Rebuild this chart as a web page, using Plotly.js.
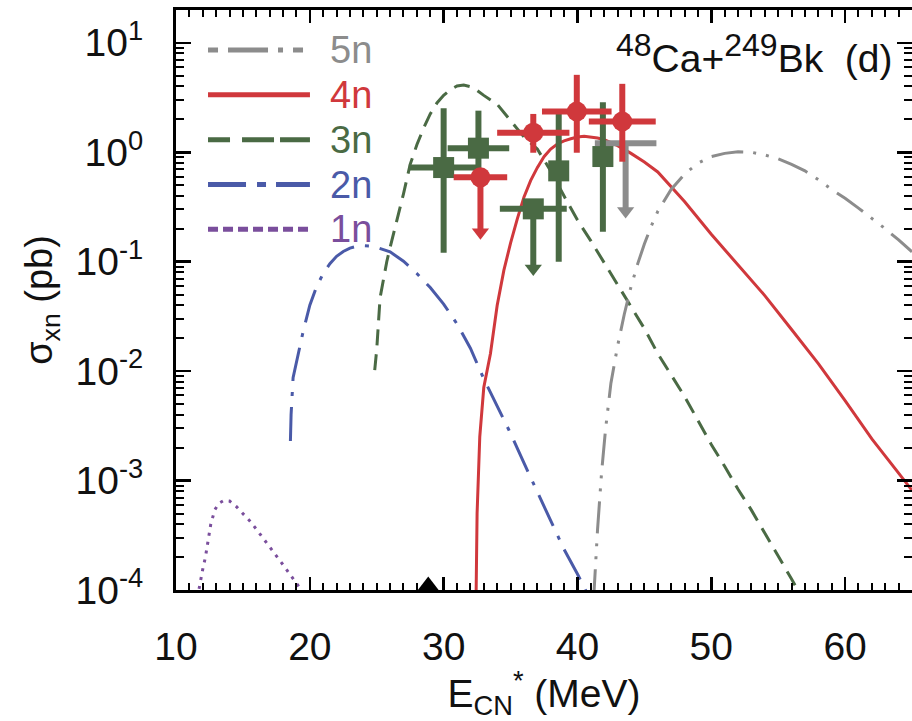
<!DOCTYPE html>
<html>
<head>
<meta charset="utf-8">
<script src="https://cdn.plot.ly/plotly-3.0.1.min.js"></script>
<style>
  html, body { margin: 0; padding: 0; background: #fff; }
  #chart { width: 912px; height: 721px; }
</style>
</head>
<body>
<div id="chart"></div>
<script>
// Calculated evaporation-residue cross sections, 48Ca + 249Bk
// Excitation energy E*_CN in MeV, cross section in pb

const e1n = [11.6, 11.8, 12.0, 12.2, 12.4, 12.6, 12.9, 13.2, 13.6, 14.0, 14.5, 15.0, 15.5, 16.0, 16.5, 17.0, 17.5, 18.0, 18.5, 19.0, 19.5, 20.0];
const s1n = [8.5e-5, 1.2e-4, 1.55e-4, 2.0e-4, 2.8e-4, 4.0e-4, 5.4e-4, 6.2e-4, 6.6e-4, 6.5e-4, 5.8e-4, 5.0e-4, 4.3e-4, 3.6e-4, 3.0e-4, 2.45e-4, 2.05e-4, 1.7e-4, 1.4e-4, 1.15e-4, 9.5e-5, 7.8e-5];

const e2n = [18.55, 18.6, 18.75, 19.0, 19.5, 20.0, 20.5, 21.0, 21.5, 22.0, 22.5, 23.0, 23.5, 24.0, 24.5, 25.0, 26.0, 27.0, 28.0, 29.0, 30.0, 31.0, 32.0, 33.0, 34.0, 35.0, 36.0, 37.0, 38.0, 39.0, 40.0, 41.0];
const s2n = [2.3e-3, 4.0e-3, 8.7e-3, 1.2e-2, 2.3e-2, 4.0e-2, 5.9e-2, 7.8e-2, 9.6e-2, 0.112, 0.124, 0.133, 0.138, 0.140, 0.139, 0.135, 0.123, 0.101, 0.078, 0.058, 0.041, 0.027, 0.0162, 8.5e-3, 4.8e-3, 2.7e-3, 1.45e-3, 7.8e-4, 4.3e-4, 2.35e-4, 1.4e-4, 8.0e-5];

const e3n = [24.85, 25.0, 25.25, 25.5, 25.75, 26.0, 26.5, 27.0, 27.5, 28.0, 28.5, 29.0, 29.5, 30.0, 30.5, 31.0, 31.5, 32.0, 32.5, 33.0, 34.0, 35.0, 36.0, 37.0, 38.0, 39.0, 40.0, 41.0, 42.0, 43.0, 44.0, 45.0, 46.0, 47.0, 48.0, 49.0, 50.0, 51.0, 52.0, 53.0, 54.0, 55.0, 56.0, 57.0];
const s3n = [0.0102, 0.0158, 0.0468, 0.0708, 0.100, 0.135, 0.234, 0.417, 0.776, 1.17, 1.66, 2.24, 2.82, 3.31, 3.72, 4.03, 4.12, 3.98, 3.67, 3.31, 2.75, 1.95, 1.38, 1.07, 0.676, 0.398, 0.240, 0.155, 0.0977, 0.0617, 0.0398, 0.0245, 0.0145, 9.12e-3, 5.89e-3, 3.55e-3, 2.14e-3, 1.35e-3, 8.32e-4, 5.37e-4, 3.31e-4, 2.09e-4, 1.26e-4, 7.6e-5];

const e4n = [32.4, 32.5, 32.7, 33.0, 33.5, 34.0, 34.5, 35.0, 35.5, 36.0, 36.5, 37.0, 37.5, 38.0, 38.5, 39.0, 39.5, 40.0, 40.5, 41.0, 41.5, 42.0, 43.0, 44.0, 45.0, 46.0, 47.0, 48.0, 50.0, 52.0, 54.0, 56.0, 58.0, 60.0, 62.0, 64.0, 65.0];
const s4n = [5.0e-5, 5.0e-4, 2.51e-3, 7.08e-3, 0.0145, 0.0398, 0.0832, 0.148, 0.245, 0.389, 0.550, 0.724, 0.912, 1.07, 1.19, 1.27, 1.33, 1.38, 1.40, 1.38, 1.35, 1.30, 1.15, 0.977, 0.813, 0.661, 0.490, 0.355, 0.178, 0.0933, 0.0490, 0.0240, 0.0117, 5.37e-3, 2.40e-3, 1.17e-3, 8.13e-4];

const e5n = [41.2, 41.5, 41.8, 42.1, 42.5, 43.0, 43.5, 44.0, 44.5, 45.0, 45.5, 46.0, 47.0, 48.0, 49.0, 50.0, 51.0, 52.0, 53.0, 54.0, 55.0, 56.0, 57.0, 58.0, 59.0, 60.0, 61.0, 62.0, 63.0, 64.0, 65.0];
const s5n = [7.9e-5, 3.55e-4, 1.17e-3, 2.95e-3, 7.76e-3, 0.0170, 0.0331, 0.0589, 0.0955, 0.145, 0.209, 0.288, 0.457, 0.631, 0.794, 0.912, 0.977, 1.01, 1.00, 0.944, 0.871, 0.776, 0.676, 0.562, 0.457, 0.380, 0.309, 0.251, 0.200, 0.158, 0.123];

// Measured points: centre, half-width in energy, upper and lower bar ends
// (for upper limits the lower end is where the arrow stops)
const exp3nE = [30.0, 32.6, 36.7, 38.6, 41.9];
const exp3nS = [0.725, 1.09, 0.304, 0.676, 0.914];
const exp3nDE = [2.6, 2.3, 2.5, 0, 0];
const exp3nHi = [2.53, 2.40, 0.304, 2.36, 2.87];
const exp3nLo = [0.121, 0.5, 0.0865, 0.10, 0.188];
const exp3nLimit = [false, false, true, false, false];

const exp4nE = [32.75, 36.7, 39.95, 43.35];
const exp4nS = [0.59, 1.51, 2.36, 1.91];
const exp4nDE = [2.0, 2.7, 2.6, 2.5];
const exp4nHi = [0.59, 2.24, 5.1, 4.22];
const exp4nLo = [0.186, 0.99, 0.99, 0.82];
const exp4nLimit = [true, false, false, false];

const exp5nE = [43.6];
const exp5nS = [1.21];
const exp5nDE = [2.3];
const exp5nHi = [1.21];
const exp5nLo = [0.291];
const exp5nLimit = [true];

// Bass barrier marker on the energy axis
const barrierE = [28.85];
const barrierS = [1.1e-4];

// legend entries, top to bottom
const legendLabels = ['5n', '4n', '3n', '2n', '1n'];

const yTickVals = [1e-4, 1e-3, 1e-2, 1e-1, 1e0, 1e1];
const yTickText = ['10<sup>-4</sup>', '10<sup>-3</sup>', '10<sup>-2</sup>', '10<sup>-1</sup>', '10<sup>0</sup>', '10<sup>1</sup>'];

const C = {
  gray: '#8c8c8c',
  red: '#d0383c',
  green: '#4a6a44',
  blue: '#4a5aa8',
  purple: '#7a4e9c'
};
const FONT = '"Liberation Sans", Arial, Helvetica, sans-serif';

// line style per channel: [colour, dash in the plot, dash in the key]
const STYLE = {
  '5n': [C.gray, '32px,10px,3px,10px,3px,10px', '10px,10px,40px,10px,5px,10px,10px,200px'],
  '4n': [C.red, 'solid', 'solid'],
  '3n': [C.green, '16px,9px', '22px,12px,32px,6px,30px,200px'],
  '2n': [C.blue, '34px,11px,4px,11px', '38px,11px,9px,10px,40px,200px'],
  '1n': [C.purple, '3px,6px', '10px,5px']
};

// minor ticks on the log axis: 2..9 in every decade
const yMinor = [];
for (let d = -4; d <= 1; d++) {
  for (let m = 2; m <= 9; m++) yMinor.push(m * Math.pow(10, d));
}

function curve(x, y, key) {
  return { x: x, y: y, type: 'scatter', mode: 'lines', showlegend: false,
           line: { color: STYLE[key][0], width: 3, dash: STYLE[key][1] }, hoverinfo: 'skip' };
}

function points(E, S, DE, Hi, Lo, color, symbol, size) {
  return {
    x: E, y: S, type: 'scatter', mode: 'markers', showlegend: false, cliponaxis: false,
    marker: { symbol: symbol, size: size, color: color, line: { width: 0 } },
    error_x: { type: 'data', array: DE, color: color, thickness: 6, width: 0 },
    error_y: { type: 'data', symmetric: false,
               array: S.map((s, i) => Hi[i] - s),
               arrayminus: S.map((s, i) => s - Lo[i]),
               color: color, thickness: 6, width: 0 }
  };
}

function arrows(E, Lo, limit, color) {
  return {
    x: E.filter((_, i) => limit[i]), y: Lo.filter((_, i) => limit[i]),
    type: 'scatter', mode: 'markers', showlegend: false,
    marker: { symbol: 'triangle-down', size: 15, color: color, line: { width: 0 } }
  };
}

const traces = [
  curve(e1n, s1n, '1n'),
  curve(e2n, s2n, '2n'),
  curve(e3n, s3n, '3n'),
  curve(e4n, s4n, '4n'),
  curve(e5n, s5n, '5n'),
  points(exp5nE, exp5nS, exp5nDE, exp5nHi, exp5nLo, C.gray, 'circle', 1),
  arrows(exp5nE, exp5nLo, exp5nLimit, C.gray),
  points(exp3nE, exp3nS, exp3nDE, exp3nHi, exp3nLo, C.green, 'square', 21),
  arrows(exp3nE, exp3nLo, exp3nLimit, C.green),
  points(exp4nE, exp4nS, exp4nDE, exp4nHi, exp4nLo, C.red, 'circle', 20),
  arrows(exp4nE, exp4nLo, exp4nLimit, C.red),
  { x: barrierE, y: barrierS, type: 'scatter', mode: 'markers', showlegend: false, cliponaxis: false,
    marker: { symbol: 'triangle-up', size: 18, color: '#000' } }
];

// key in the upper-left corner: line sample plus coloured label per row
const keyShapes = [];
const keyTexts = [];
legendLabels.forEach((lab, i) => {
  const yRow = 0.931 - i * 0.0773;
  keyShapes.push({
    type: 'line', xref: 'paper', yref: 'paper', x0: 0.0435, x1: 0.182, y0: yRow, y1: yRow,
    line: { color: STYLE[lab][0], width: 5, dash: STYLE[lab][2] }
  });
  keyTexts.push({
    xref: 'paper', yref: 'paper', x: 0.206, y: yRow, xanchor: 'left', yanchor: 'middle',
    text: lab, showarrow: false, font: { family: FONT, size: 38, color: STYLE[lab][0] }
  });
});

const axisCommon = {
  showline: true, linecolor: '#000', linewidth: 3, mirror: 'allticks',
  ticks: 'inside', tickcolor: '#000', showgrid: false, zeroline: false,
  tickfont: { family: FONT, size: 39, color: '#111' }
};

const layout = {
  width: 912, height: 721,
  margin: { l: 176, r: 0, t: 10, b: 131 },
  paper_bgcolor: '#fff', plot_bgcolor: '#fff',
  font: { family: FONT, color: '#111' },
  showlegend: false,
  xaxis: Object.assign({}, axisCommon, {
    type: 'linear', range: [10, 65], tick0: 0, dtick: 10,
    ticklen: 13, tickwidth: 2.5, ticklabelstandoff: 20,
    minor: { dtick: 1, ticks: 'inside', ticklen: 7, tickwidth: 2, tickcolor: '#000' },
    title: { text: 'E<sub>CN</sub><sup>*</sup> (MeV)', font: { family: FONT, size: 39, color: '#111' }, standoff: 14 }
  }),
  yaxis: Object.assign({}, axisCommon, {
    type: 'log', range: [-4, 1.3],
    tickmode: 'array', tickvals: yTickVals, ticktext: yTickText,
    ticklen: 15, tickwidth: 2.5, ticklabelstandoff: 22,
    minor: { tickmode: 'array', tickvals: yMinor, ticks: 'inside', ticklen: 8, tickwidth: 2, tickcolor: '#000' },
    title: { text: 'σ<sub>xn</sub> (pb)', font: { family: FONT, size: 38, color: '#111' }, standoff: 12 }
  }),
  shapes: keyShapes,
  annotations: keyTexts.concat([{
    xref: 'paper', yref: 'paper', x: 0.976, y: 0.925, xanchor: 'right', yanchor: 'middle',
    text: '<sup><span style="font-size:32px">48</span></sup>Ca+<sup><span style="font-size:32px">249</span></sup>Bk&nbsp;&nbsp;(d)',
    showarrow: false,
    font: { family: FONT, size: 39, color: '#111' }
  }])
};

Plotly.newPlot('chart', traces, layout, { staticPlot: true, displayModeBar: false });
</script>
</body>
</html>
